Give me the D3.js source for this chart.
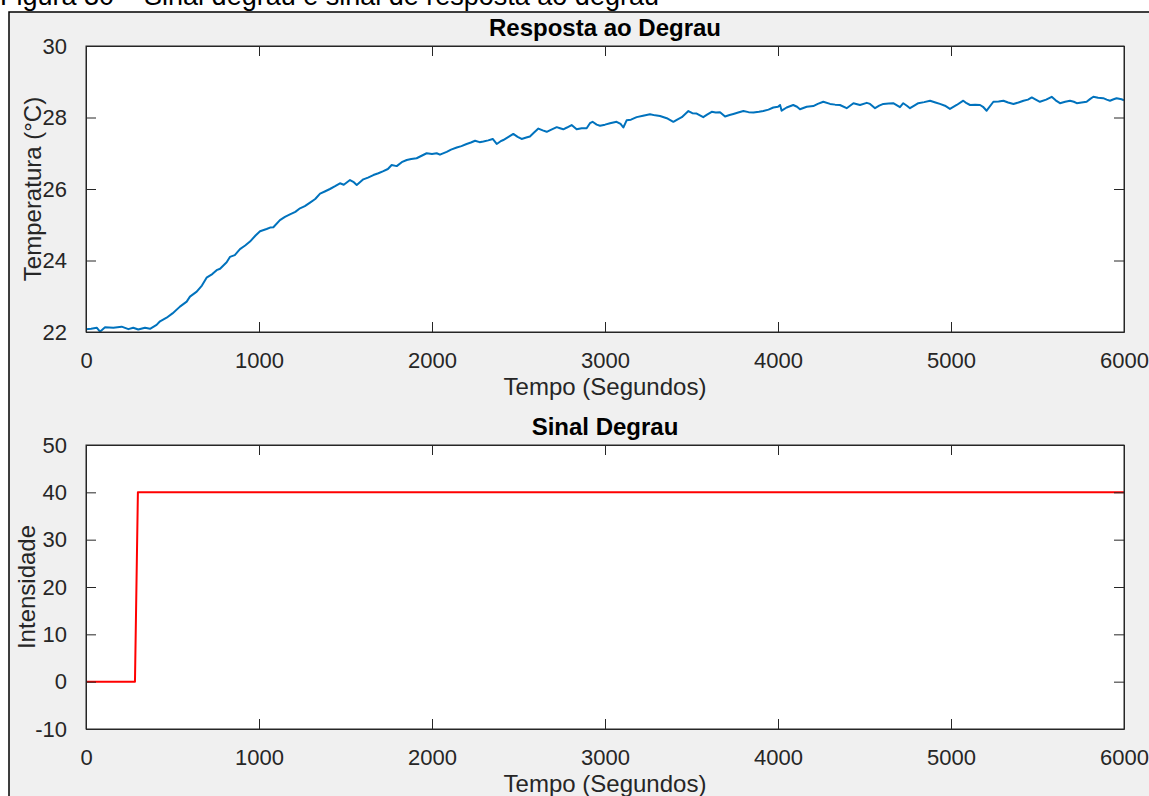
<!DOCTYPE html>
<html>
<head>
<meta charset="utf-8">
<script src="https://cdn.jsdelivr.net/npm/d3@7"></script>
<style>
  body { margin: 0; background: #fff; }
  text { font-family: "Liberation Sans", Arial, sans-serif; fill: #262626; }
</style>
</head>
<body>
<script>
const respTime = [0,30,62,81,110,158,206,245,273,302,341,370,408,428,466,500,543,582,601,640,670,697,730,755,775,813,832,860,890,920,948,980,1006,1044,1064,1083,1121,1150,1179,1210,1237,1265,1295,1325,1353,1380,1410,1440,1468,1490,1526,1545,1565,1603,1630,1661,1690,1719,1745,1767,1796,1825,1854,1880,1911,1940,1969,2000,2027,2046,2085,2110,2143,2170,2200,2225,2249,2275,2297,2325,2351,2374,2395,2412,2440,2470,2495,2518,2545,2566,2590,2615,2640,2663,2690,2721,2740,2759,2780,2807,2836,2865,2894,2913,2928,2952,2971,3000,3029,3067,3090,3106,3125,3150,3183,3220,3260,3290,3318,3357,3395,3420,3444,3482,3505,3530,3568,3590,3617,3640,3665,3694,3720,3742,3770,3800,3830,3858,3890,3915,3945,3973,4000,4012,4021,4050,4088,4110,4127,4166,4204,4230,4262,4301,4330,4358,4397,4436,4474,4513,4532,4561,4585,4609,4640,4666,4705,4724,4745,4763,4790,4811,4845,4879,4910,4936,4965,4994,5033,5071,5090,5110,5140,5168,5185,5206,5245,5275,5303,5330,5361,5390,5419,5445,5467,5490,5514,5550,5582,5605,5630,5660,5688,5710,5727,5755,5784,5805,5823,5850,5880,5900,5919,5940,5957,5986,6000]
const respTemp = [22.08,22.09,22.12,22.01,22.13,22.12,22.15,22.08,22.12,22.07,22.12,22.09,22.20,22.30,22.40,22.52,22.71,22.85,22.99,23.13,23.30,23.52,23.62,23.73,23.77,23.95,24.10,24.15,24.32,24.42,24.53,24.70,24.82,24.88,24.92,24.93,25.13,25.22,25.29,25.36,25.46,25.52,25.62,25.72,25.87,25.93,26.00,26.08,26.16,26.12,26.25,26.20,26.11,26.27,26.32,26.39,26.44,26.50,26.56,26.67,26.64,26.75,26.81,26.84,26.86,26.93,27.00,26.98,27.00,26.96,27.04,27.10,27.16,27.20,27.26,27.30,27.35,27.31,27.33,27.36,27.40,27.26,27.33,27.37,27.45,27.54,27.46,27.40,27.44,27.47,27.58,27.69,27.64,27.60,27.66,27.73,27.70,27.67,27.72,27.79,27.67,27.70,27.70,27.84,27.88,27.80,27.77,27.80,27.84,27.88,27.82,27.72,27.92,27.94,28.01,28.05,28.09,28.06,28.04,27.98,27.88,27.95,28.01,28.18,28.12,28.11,28.01,28.08,28.16,28.14,28.15,28.03,28.07,28.10,28.14,28.18,28.15,28.14,28.16,28.18,28.22,28.28,28.30,28.35,28.19,28.28,28.35,28.30,28.23,28.30,28.32,28.38,28.44,28.38,28.36,28.35,28.26,28.40,28.35,28.41,28.38,28.26,28.33,28.38,28.39,28.40,28.29,28.40,28.33,28.26,28.34,28.40,28.43,28.47,28.42,28.38,28.33,28.24,28.35,28.47,28.40,28.35,28.36,28.35,28.30,28.19,28.44,28.45,28.47,28.42,28.38,28.42,28.47,28.50,28.56,28.50,28.44,28.50,28.58,28.48,28.40,28.44,28.47,28.44,28.40,28.42,28.44,28.52,28.58,28.55,28.54,28.50,28.47,28.51,28.54,28.51,28.48]

// sinal degrau
const stepTime = [0, 283, 300, 6000]
const stepValue = [0, 0, 40, 40]

// ticks
const timeTicks = [0, 1000, 2000, 3000, 4000, 5000, 6000]
const tempTicks = [22, 24, 26, 28, 30]
const intTicks = [-10, 0, 10, 20, 30, 40, 50]

const width = 1149
const height = 796
const left = 86
const right = 1124
const tickLen = 10
const axisColor = "#262626"
const plain = d => String(d)  // sem separador de milhar, hifen simples

const svg = d3.select("body").append("svg")
  .attr("width", width)
  .attr("height", height)

// fundo da figura
svg.append("rect").attr("width", width).attr("height", height).attr("fill", "#fff")
svg.append("rect")
  .attr("x", 9).attr("y", 12)
  .attr("width", width + 10).attr("height", height)
  .attr("fill", "#f0f0f0")
  .attr("stroke", "#000").attr("stroke-width", 1.5)

// legenda da figura (cortada no topo)
svg.append("text")
  .attr("x", 0).attr("y", 5)
  .style("font-size", "27px")
  .style("fill", "#000")
  .text("Figura 30 – Sinal degrau e sinal de resposta ao degrau")

const xScale = d3.scaleLinear([0, 6000], [left, right])

function drawPanel(id, top, bottom, yDomain, yTicks, title, yLabel, labelX, times, values, color) {
  const yScale = d3.scaleLinear(yDomain, [bottom, top])
  const g = svg.append("g")

  g.append("rect")
    .attr("x", left).attr("y", top)
    .attr("width", right - left).attr("height", bottom - top)
    .attr("fill", "#fff")

  g.append("clipPath").attr("id", id)
    .append("rect")
    .attr("x", left).attr("y", top)
    .attr("width", right - left).attr("height", bottom - top)

  const line = d3.line()
    .x(i => xScale(times[i]))
    .y(i => yScale(values[i]))

  g.append("path")
    .attr("d", line(d3.range(times.length)))
    .attr("clip-path", `url(#${id})`)
    .attr("fill", "none")
    .attr("stroke", color)
    .attr("stroke-width", 2)
    .attr("stroke-linejoin", "round")

  // eixos estilo matlab: ticks para dentro nos quatro lados
  const xb = g.append("g").attr("transform", `translate(0,${bottom})`)
    .call(d3.axisBottom(xScale).tickValues(timeTicks).tickFormat(plain).tickSizeInner(-tickLen).tickSizeOuter(0).tickPadding(tickLen + 10))
  const xt = g.append("g").attr("transform", `translate(0,${top})`)
    .call(d3.axisTop(xScale).tickValues(timeTicks).tickSizeInner(-tickLen).tickSizeOuter(0).tickFormat(""))
  const yl = g.append("g").attr("transform", `translate(${left},0)`)
    .call(d3.axisLeft(yScale).tickValues(yTicks).tickFormat(plain).tickSizeInner(-tickLen).tickSizeOuter(0).tickPadding(tickLen + 9))
  const yr = g.append("g").attr("transform", `translate(${right},0)`)
    .call(d3.axisRight(yScale).tickValues(yTicks).tickSizeInner(-tickLen).tickSizeOuter(0).tickFormat(""))

  for (const a of [xb, xt, yl, yr]) {
    a.select(".domain").attr("stroke", axisColor)
    a.selectAll(".tick line").attr("stroke", axisColor)
    a.selectAll("text").style("font-size", "22px").attr("fill", axisColor)
      .style("font-family", '"Liberation Sans", Arial, sans-serif')
  }
  // caixa completa
  g.append("rect")
    .attr("x", left).attr("y", top)
    .attr("width", right - left).attr("height", bottom - top)
    .attr("fill", "none").attr("stroke", axisColor).attr("stroke-width", 1)

  g.append("text")
    .attr("x", (left + right) / 2).attr("y", top - 10)
    .attr("text-anchor", "middle")
    .style("font-size", "24px").style("font-weight", "bold")
    .style("fill", "#000")
    .text(title)

  g.append("text")
    .attr("x", (left + right) / 2).attr("y", bottom + 63)
    .attr("text-anchor", "middle")
    .style("font-size", "24px")
    .text("Tempo (Segundos)")

  g.append("text")
    .attr("transform", `translate(${labelX},${(top + bottom) / 2}) rotate(-90)`)
    .attr("text-anchor", "middle")
    .attr("dy", "0.35em")
    .style("font-size", "24px")
    .text(yLabel)
}

drawPanel("clipTop", 46, 332, [22, 30], tempTicks, "Resposta ao Degrau", "Temperatura (°C)", 33,
  respTime, respTemp, "#0072BD")
drawPanel("clipBottom", 445, 729, [-10, 50], intTicks, "Sinal Degrau", "Intensidade", 27,
  stepTime, stepValue, "#ff0000")
</script>
</body>
</html>
